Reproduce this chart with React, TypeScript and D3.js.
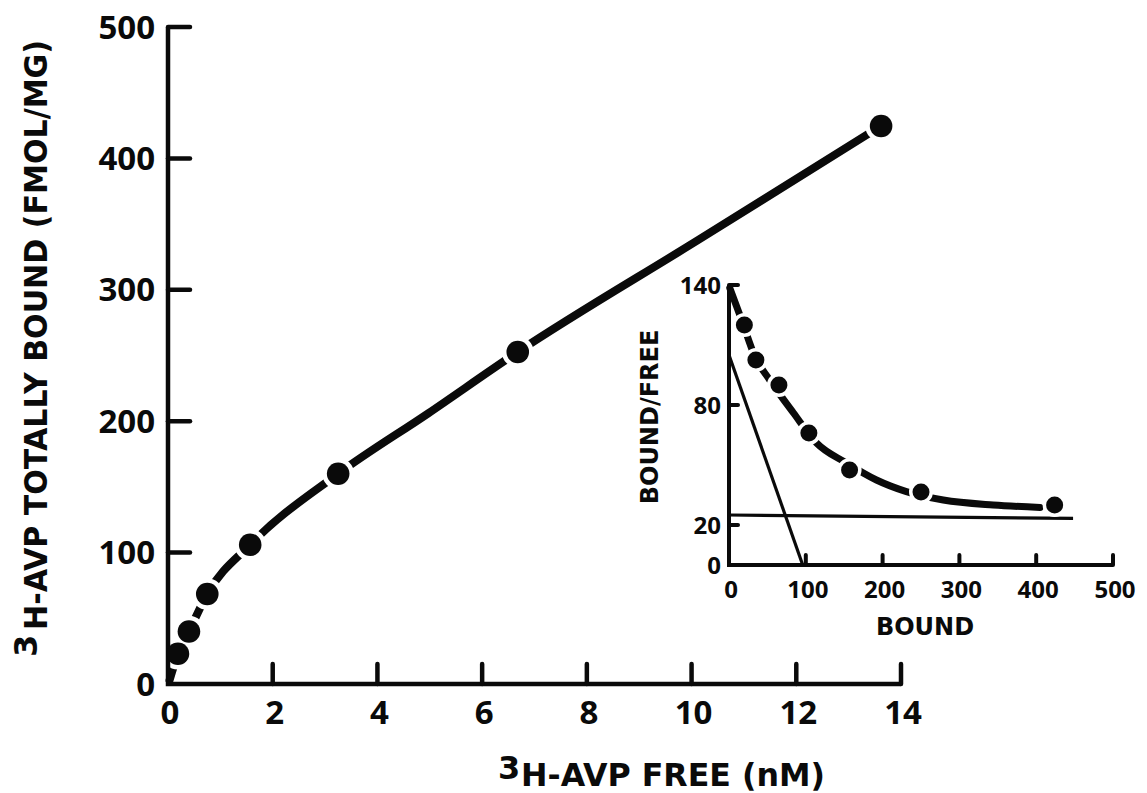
import React from "react";
import * as d3 from "d3";

// ---- Main plot data ----
const freeNM = [0.19, 0.4, 0.75, 1.57, 3.25, 6.68, 13.62];
const totallyBound = [23, 40, 68.5, 106, 160, 252.7, 424.7];
// drawn curve through the points (starts near origin, nearly straight at the top end)
const mainFitFree = [0.03, 0.19, 0.4, 0.75, 1.57, 3.25, 4.97, 6.68, 10.16, 13.62];
const mainFitBound = [3, 23, 40, 68.5, 106, 160, 206, 252.7, 338.7, 424.7];
const mainXTicks = [0, 2, 4, 6, 8, 10, 12, 14];
const mainYTicks = [0, 100, 200, 300, 400, 500];

// ---- Inset (Scatchard) data ----
const insetBound = [20, 35, 65, 104, 157, 250, 424];
const insetRatio = [120, 102.5, 90, 66, 47.5, 36.5, 30];
const insetFitBound = [1, 16.5, 34, 53, 84, 114, 153, 192, 231, 279, 344, 405];
const insetFitRatio = [138.5, 122.5, 104, 92.5, 76, 61, 51, 42.5, 36.7, 32.5, 30, 28.8];
const highAffBound = [0, 96];
const highAffRatio = [105, 0];
const lowAffBound = [0, 448];
const lowAffRatio = [25, 23.3];
const insetXTicks = [0, 100, 200, 300, 400, 500];
const insetYTicks = [0, 20, 80, 140];

const INK = "#0a0a0a";
const LABEL_FONT = "'DejaVu Sans', sans-serif";
const TICK_FONT = "'Open Sans', sans-serif";

export default function App() {
  const W = 1147;
  const H = 793;

  const xM = d3.scaleLinear().domain([0, 14]).range([168, 901]);
  const yM = d3.scaleLinear().domain([0, 500]).range([684, 27]);
  const xI = d3.scaleLinear().domain([0, 500]).range([729, 1113]);
  const yI = d3.scaleLinear().domain([0, 140]).range([565, 285]);

  const mainLine = d3
    .line<number>()
    .x((_, i) => xM(mainFitFree[i]))
    .y((d) => yM(d))
    .curve(d3.curveMonotoneX);
  const insetLine = d3
    .line<number>()
    .x((_, i) => xI(insetFitBound[i]))
    .y((d) => yI(d))
    .curve(d3.curveMonotoneX);
  const straight = (bx: number[], ry: number[]) =>
    d3
      .line<number>()
      .x((_, i) => xI(bx[i]))
      .y((d) => yI(d))(ry) as string;

  const [x0M, x1M] = xM.range();
  const [y0M, y1M] = yM.range();
  const [x0I, x1I] = xI.range();
  const [y0I, y1I] = yI.range();

  return (
    <svg
      width={W}
      height={H}
      viewBox={`0 0 ${W} ${H}`}
      style={{ position: "absolute", left: 0, top: 0, background: "#fff" }}
    >
      <rect x={0} y={0} width={W} height={H} fill="#fff" />

      {/* ===== Main plot ===== */}
      <path
        d={mainLine(mainFitBound) as string}
        fill="none"
        stroke={INK}
        strokeWidth={8}
        strokeLinecap="round"
      />
      {freeNM.map((f, i) => (
        <circle key={"mr" + i} cx={xM(f)} cy={yM(totallyBound[i])} r={11.3} fill="#fff" stroke="#fff" strokeWidth={9} />
      ))}

      {/* axes */}
      <path
        d={`M${x0M},${y1M} L${x0M},${y0M} L${x1M},${y0M}`}
        fill="none"
        stroke={INK}
        strokeWidth={4.5}
        strokeLinejoin="miter"
      />
      {mainYTicks.filter((t) => t > 0).map((t) => (
        <line key={"myt" + t} x1={x0M} x2={x0M + 22} y1={yM(t)} y2={yM(t)} stroke={INK} strokeWidth={4.5} strokeLinecap="round" />
      ))}
      {mainXTicks.filter((t) => t > 0).map((t) => (
        <line key={"mxt" + t} x1={xM(t)} x2={xM(t)} y1={y0M} y2={y0M - 20} stroke={INK} strokeWidth={4.5} strokeLinecap="round" />
      ))}
      {mainYTicks.map((t) => (
        <text key={"myl" + t} x={155} y={yM(t) + 11.5} textAnchor="end" fontFamily={TICK_FONT} fontWeight={700} fontSize={33} fill={INK}>
          {t}
        </text>
      ))}
      {mainXTicks.map((t) => (
        <text key={"mxl" + t} x={xM(t) + 2} y={724} textAnchor="middle" fontFamily={TICK_FONT} fontWeight={700} fontSize={33} fill={INK}>
          {t}
        </text>
      ))}

      {freeNM.map((f, i) => (
        <circle key={"md" + i} cx={xM(f)} cy={yM(totallyBound[i])} r={11.3} fill={INK} />
      ))}

      {/* main axis titles */}
      <text x={498} y={779} fontFamily={LABEL_FONT} fontWeight={700} fontSize={32} fill={INK}>3</text>
      <text x={521} y={786} fontFamily={LABEL_FONT} fontWeight={700} fontSize={32} fill={INK} textLength={304} lengthAdjust="spacingAndGlyphs">
        H-AVP FREE (nM)
      </text>
      <g transform="translate(37,657) rotate(-90)">
        <text x={0} y={0} fontFamily={LABEL_FONT} fontWeight={700} fontSize={32} fill={INK}>3</text>
      </g>
      <g transform="translate(47,630) rotate(-90)">
        <text x={0} y={0} fontFamily={LABEL_FONT} fontWeight={700} fontSize={32} fill={INK} textLength={590} lengthAdjust="spacingAndGlyphs">
          H-AVP TOTALLY BOUND (FMOL/MG)
        </text>
      </g>

      {/* ===== Inset ===== */}
      <path d={straight(highAffBound, highAffRatio)} fill="none" stroke={INK} strokeWidth={3.2} />
      <path d={straight(lowAffBound, lowAffRatio)} fill="none" stroke={INK} strokeWidth={3.2} />
      <path
        d={insetLine(insetFitRatio) as string}
        fill="none"
        stroke={INK}
        strokeWidth={7}
        strokeLinecap="round"
      />
      {insetBound.map((b, i) => (
        <circle key={"ir" + i} cx={xI(b)} cy={yI(insetRatio[i])} r={8.5} fill="#fff" stroke="#fff" strokeWidth={7} />
      ))}
      <path
        d={`M${x0I},${y1I} L${x0I},${y0I} L${x1I},${y0I}`}
        fill="none"
        stroke={INK}
        strokeWidth={4}
      />
      {insetYTicks.filter((t) => t > 0).map((t) => (
        <line key={"iyt" + t} x1={x0I} x2={x0I + 9} y1={yI(t)} y2={yI(t)} stroke={INK} strokeWidth={4} strokeLinecap="round" />
      ))}
      {insetXTicks.filter((t) => t > 0).map((t) => (
        <line key={"ixt" + t} x1={xI(t)} x2={xI(t)} y1={y0I} y2={y0I - 10} stroke={INK} strokeWidth={4} strokeLinecap="round" />
      ))}
      {insetYTicks.map((t) => (
        <text key={"iyl" + t} x={721} y={yI(t) + 8.5} textAnchor="end" fontFamily={TICK_FONT} fontWeight={700} fontSize={24} fill={INK}>
          {t}
        </text>
      ))}
      {insetXTicks.map((t) => (
        <text key={"ixl" + t} x={xI(t) + 2} y={598} textAnchor="middle" fontFamily={TICK_FONT} fontWeight={700} fontSize={24} fill={INK}>
          {t}
        </text>
      ))}
      {insetBound.map((b, i) => (
        <circle key={"id" + i} cx={xI(b)} cy={yI(insetRatio[i])} r={8.5} fill={INK} />
      ))}
      <text x={925} y={635} textAnchor="middle" fontFamily={LABEL_FONT} fontWeight={700} fontSize={24} fill={INK}>
        BOUND
      </text>
      <g transform="translate(658,417) rotate(-90)">
        <text x={0} y={0} textAnchor="middle" fontFamily={LABEL_FONT} fontWeight={700} fontSize={24} fill={INK}>
          BOUND/FREE
        </text>
      </g>
    </svg>
  );
}
